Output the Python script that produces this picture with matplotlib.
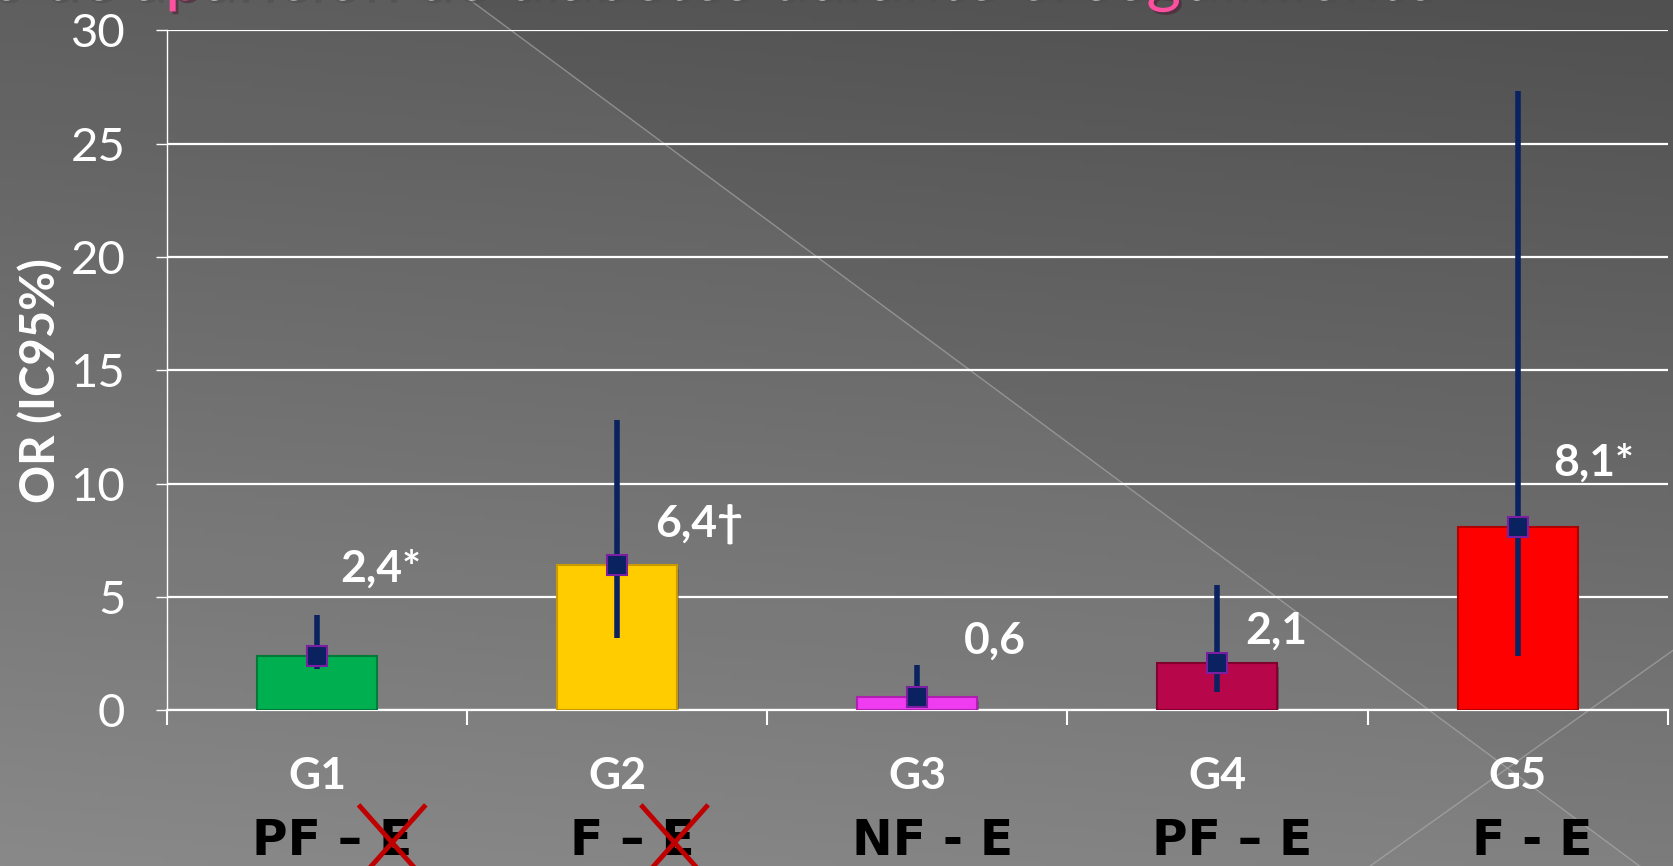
import numpy as np
import matplotlib.pyplot as plt
from matplotlib import transforms
from matplotlib.patches import Polygon
import matplotlib.patheffects as pe

# data
groups = ["G1", "G2", "G3", "G4", "G5"]
subgroups = ["PF – E", "F – E", "NF - E", "PF – E", "F - E"]
odds = np.array([2.4, 6.4, 0.6, 2.1, 8.1])
ci_low = np.array([1.8, 3.2, 0.2, 0.8, 2.4])
ci_high = np.array([4.2, 12.8, 2.0, 5.5, 27.3])
value_labels = ["2,4*", "6,4†", "0,6", "2,1", "8,1*"]
crossed = [True, True, False, False, False]
title_parts = ["Riesgo de a", "p", "arición de diabetes durante el se", "g", "uimiento"]

bar_colors = ["#00B050", "#FFCC00", "#F03CF0", "#B8064A", "#FF0000"]
edge_colors = ["#007A38", "#C89A00", "#B020B0", "#80002E", "#B00000"]
label_offsets = [(46, 63), (59, 30), (56, 40), (42, 23), (55, 46)]  # points

fam = ["Lato", "DejaVu Sans"]
plt.rcParams["font.family"] = fam

fig = plt.figure(figsize=(16.73, 8.66), dpi=100)

# background: grey gradient with diagonal decoration
bg = fig.add_axes([0, 0, 1, 1], zorder=-10)
rr, cc = np.mgrid[0:1:200j, 0:1:400j]
grad = (88 + 44 * rr - 8 * cc) / 255.0
bg.imshow(np.dstack([grad, grad, grad]), extent=[0, 1, 0, 1], aspect="auto")
bg.add_patch(Polygon([(0, 1), (0.281, 1), (0.980, 0), (0, 0)], closed=True,
                     facecolor="white", alpha=0.045, edgecolor="none"))
bg.plot([0.281, 0.980], [1, 0], color="#b0b0b0", lw=1, alpha=0.6)
bg.plot([0.819, 1.0], [0, 0.249], color="#b0b0b0", lw=1, alpha=0.6)
bg.set_xlim(0, 1)
bg.set_ylim(0, 1)
bg.axis("off")

ax = fig.add_axes([0.0998, 0.180, 0.897, 0.785])
ax.patch.set_alpha(0)
x = np.arange(len(groups))

bars = ax.bar(x, odds, width=0.4, color=bar_colors, edgecolor=edge_colors,
              linewidth=1.5, zorder=3)
for b in bars:
    b.set_path_effects([pe.SimplePatchShadow(offset=(1, -3), alpha=0.35), pe.Normal()])

ax.errorbar(x, odds, yerr=[odds - ci_low, ci_high - odds], fmt="s",
            color="#0B2260", ecolor="#0B2260", elinewidth=4, capsize=0,
            markersize=15, mfc="#0B2260", mec="#7B1FA2", mew=1.5, zorder=4)

for i, (lab, off) in enumerate(zip(value_labels, label_offsets)):
    ax.annotate(lab, (x[i], odds[i]), xytext=off, textcoords="offset points",
                ha="center", va="center", color="white", fontsize=32,
                fontweight="bold", zorder=5)

ax.set_ylim(0, 30)
ax.set_xlim(-0.5, 4.5)
ax.set_yticks(np.arange(0, 31, 5))
ax.yaxis.grid(True, color="white", lw=1.6, zorder=0)
ax.set_axisbelow(True)
ax.tick_params(axis="y", colors="white", labelsize=34, length=8, width=1, pad=22)
ax.set_xticks([])
ax.set_xticks(np.arange(-0.5, 5, 1), minor=True)
ax.tick_params(axis="x", which="minor", colors="white", length=11, width=1.5)
for s in ["top", "right"]:
    ax.spines[s].set_visible(False)
ax.spines["left"].set_color("white")
ax.spines["left"].set_linewidth(1)
ax.spines["bottom"].set_color("white")
ax.spines["bottom"].set_linewidth(1.6)

ax.set_ylabel("OR (IC95%)", color="white", fontsize=34, fontweight="bold", va="center")
ax.yaxis.set_label_coords(-0.084, 0.485)

tb = transforms.blended_transform_factory(ax.transData, ax.transAxes)
sub_texts = []
for i in x:
    ax.text(i, -0.097, groups[i], transform=tb, ha="center", va="center",
            color="white", fontsize=32, fontweight="bold")
    st = ax.text(i + 0.05, -0.192, subgroups[i], transform=tb, ha="center",
                 va="center", color="black", fontsize=35, fontweight="bold",
                 family="DejaVu Sans")
    sub_texts.append(st)

# title, mostly cut off at the top of the slide
ident = transforms.IdentityTransform()
texts = []
for k, part in enumerate(title_parts):
    col = "#FF4FA0" if k % 2 else "white"
    t = fig.text(0, 866, part, transform=ident, ha="left", va="baseline",
                 color=col, fontsize=48,
                 path_effects=[pe.withSimplePatchShadow(offset=(2, -2), alpha=0.5)])
    texts.append(t)
fig.canvas.draw()
rend = fig.canvas.get_renderer()
widths = [t.get_window_extent(rend).width for t in texts]
xpos = 165 - widths[0]
for t, w in zip(texts, widths):
    t.set_x(xpos)
    xpos += w

# red crosses over the last "E" of the crossed groups
for st, cr in zip(sub_texts, crossed):
    if not cr:
        continue
    bb = st.get_window_extent(rend)
    cx = bb.x1 - 20
    cy = bb.y0 + bb.height / 2 - 2
    for sgn in (1, -1):
        fig.lines.append(plt.Line2D([cx - 32, cx + 32], [cy + sgn * 36, cy - sgn * 36],
                                    transform=ident, color="#C00000", lw=3.5,
                                    zorder=6))

fig.savefig("out.png", dpi=100)
